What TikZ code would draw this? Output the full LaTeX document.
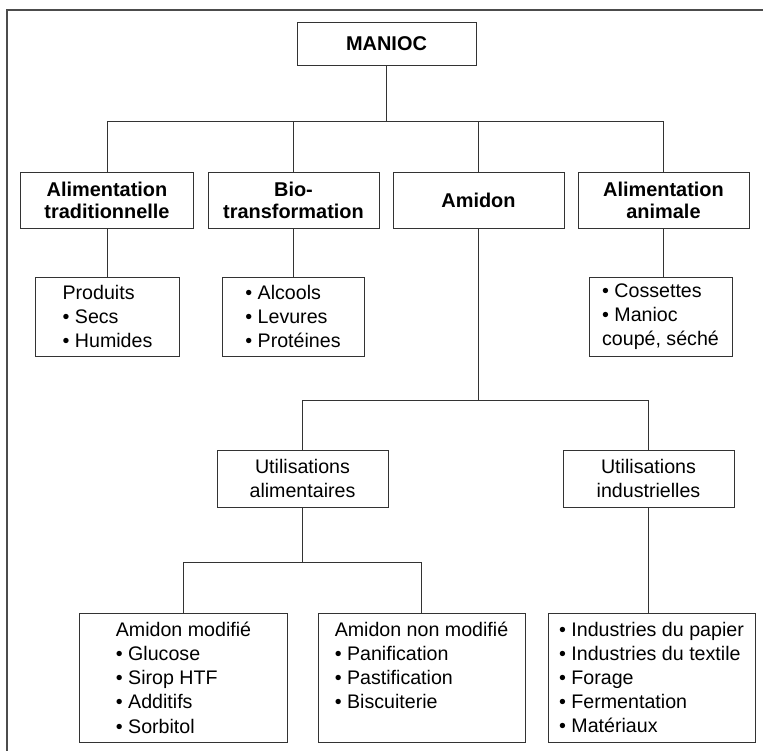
\documentclass[tikz,border=0pt]{standalone}
\usepackage{fontspec}
\setmainfont{Liberation Sans}
\usetikzlibrary{positioning,calc}

\begin{document}
\begin{tikzpicture}[x=1bp, y=-1bp,
    box/.style={draw=black!80, line width=1bp, rectangle, inner sep=0pt},
    head/.style={box, align=center, font=\fontsize{20}{22}\selectfont\bfseries},
    usage/.style={box, align=center, font=\fontsize{19.7}{24.3}\selectfont},
    list/.style={box, align=left, font=\fontsize{19.7}{24.3}\selectfont},
    link/.style={draw=black!80, line width=1bp}]
    \useasboundingbox (0,0) rectangle (763,751);
    \clip (0,0) rectangle (763,751);

    % Outer frame
    \draw[gray!60!black, line width=1.4bp] (7,10) rectangle (780,770);

    % Root
    \node[head, minimum width=179bp, minimum height=42bp] (manioc) at (386.5,44) {MANIOC};

    % First level
    \node[head, minimum width=172bp, minimum height=56bp] (tradi) at (107,200) {Alimentation\\traditionnelle};
    \node[head, minimum width=171bp, minimum height=56bp] (biotr) at (293.5,200) {Bio-\\transformation};
    \node[head, minimum width=171bp, minimum height=56bp] (amidon) at (478.5,200) {Amidon};
    \node[head, minimum width=171bp, minimum height=56bp] (animale) at (663.5,200) {Alimentation\\animale};

    % Products
    \node[list, minimum width=143bp, minimum height=79bp] (produits) at (107.5,316.5) {Produits\\• Secs\\• Humides};
    \node[list, minimum width=142bp, minimum height=79bp] (alcools) at (293,316.5) {• Alcools\\• Levures\\• Protéines};
    \node[list, minimum width=143bp, minimum height=79bp] (cossettes) at (660.5,316.5) {• Cossettes\\• Manioc\\coupé, séché};

    % Starch uses
    \node[usage, minimum width=171bp, minimum height=57bp] (alim) at (302.5,478.5) {Utilisations\\alimentaires};
    \node[usage, minimum width=171bp, minimum height=57bp] (indus) at (648.5,478.5) {Utilisations\\industrielles};

    \node[list, minimum width=207bp, minimum height=129bp] (modif) at (183.5,677.5) {Amidon modifié\\• Glucose\\• Sirop HTF\\• Additifs\\• Sorbitol};
    \node[list, minimum width=207bp, minimum height=129bp] (nonmodif) at (421.5,677.5) {Amidon non modifié\\• Panification\\• Pastification\\• Biscuiterie\\ \mbox{}};
    \node[list, minimum width=207bp, minimum height=129bp] (industrie) at (651.5,677.5) {• Industries du papier\\• Industries du textile\\• Forage\\• Fermentation\\• Matériaux};

    % Connectors
    \coordinate (bus1) at ($(manioc.south)+(0,56)$);
    \draw[link] (manioc.south) -- (bus1);
    \foreach \n in {tradi,biotr,amidon,animale}
        \draw[link] (bus1) -| (\n.north);
    \foreach \a/\b in {tradi/produits,biotr/alcools,animale/cossettes}
        \draw[link] (\a.south) -- (\a.south |- \b.north);

    \coordinate (bus2) at ($(amidon.south)+(0,172)$);
    \draw[link] (amidon.south) -- (bus2);
    \draw[link] (bus2) -| (alim.north);
    \draw[link] (bus2) -| (indus.north);

    \coordinate (bus3) at ($(alim.south)+(0,55)$);
    \draw[link] (alim.south) -- (bus3);
    \draw[link] (bus3) -| (modif.north);
    \draw[link] (bus3) -| (nonmodif.north);
    \draw[link] (indus.south) -- (indus.south |- industrie.north);
\end{tikzpicture}
\end{document}
